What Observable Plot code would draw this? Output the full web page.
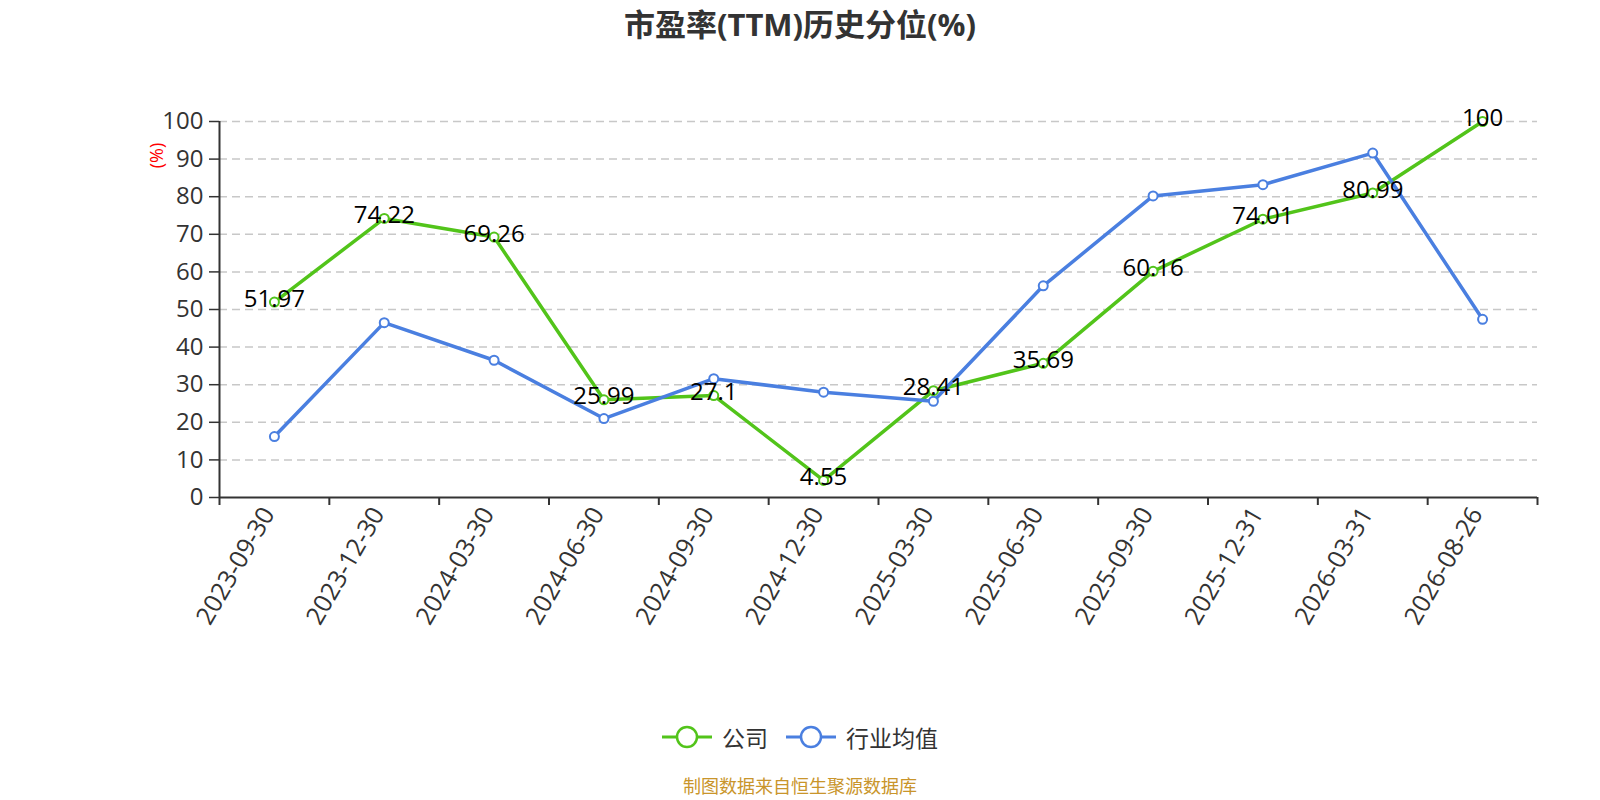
<!DOCTYPE html>
<html>
<head>
<meta charset="utf-8">
<script src="https://cdn.jsdelivr.net/npm/d3@7"></script>
<script src="https://cdn.jsdelivr.net/npm/@observablehq/plot@0.6"></script>
<style>
  body { margin: 0; background: #fff; font-family: "Open Sans", "Noto Sans CJK SC", sans-serif; }
  #wrap { position: relative; width: 1600px; height: 800px; overflow: hidden; }
  #title { position: absolute; top: 0px; left: 0; width: 1600px; text-align: center; font-size: 31px; font-weight: bold; color: #333; }
  #chart { position: absolute; top: 0; left: 0; }
  #legend { position: absolute; top: 720px; left: 0; width: 1600px; display: flex; justify-content: center; align-items: center; font-size: 23px; color: #333; }
  #legend .item { display: flex; align-items: center; margin: 0 9px; }
  #legend svg { margin-right: 10px; }
  #footer { position: absolute; top: 775px; left: 0; width: 1600px; text-align: center; font-size: 18px; line-height: 22px; color: #c9952b; }
</style>
</head>
<body>
<div id="wrap">
  <div id="chart"></div>
  <div id="title">市盈率(TTM)历史分位(%)</div>
  <div id="legend"></div>
  <div id="footer">制图数据来自恒生聚源数据库</div>
</div>
<script>
const categories = ["2023-09-30","2023-12-30","2024-03-30","2024-06-30","2024-09-30","2024-12-30","2025-03-30","2025-06-30","2025-09-30","2025-12-31","2026-03-31","2026-08-26"];
const companyValues = [51.97, 74.22, 69.26, 25.99, 27.1, 4.55, 28.41, 35.69, 60.16, 74.01, 80.99, 100];
const industryValues = [16.2, 46.5, 36.5, 21.0, 31.6, 28.0, 25.6, 56.3, 80.2, 83.2, 91.6, 47.4];
const yTicks = [0, 10, 20, 30, 40, 50, 60, 70, 80, 90, 100];
const seriesNames = ["公司", "行业均值"];
const seriesColors = ["#52c41a", "#4a7fe0"];

const W = 1600, H = 660;
const mL = 219, mR = 63, mT = 121, mB = 163;
const bw = (W - mL - mR) / categories.length;

const company = categories.map((c, i) => ({date: c, value: companyValues[i]}));
const industry = categories.map((c, i) => ({date: c, value: industryValues[i]}));

const plot = Plot.plot({
  width: W, height: H,
  marginLeft: mL, marginRight: mR, marginTop: mT, marginBottom: mB,
  style: {fontFamily: '"Open Sans", "Noto Sans CJK SC", sans-serif', background: "transparent", overflow: "visible"},
  x: {type: "band", domain: categories, padding: 0, round: false},
  y: {domain: [0, 100]},
  marks: [
    Plot.gridY(yTicks.filter(d => d > 0), {stroke: "#c8c8c8", strokeOpacity: 1, strokeWidth: 1.5, strokeDasharray: "8,5"}),
    Plot.axisY(yTicks, {tickSize: 10, tickPadding: 6, fontSize: 24, color: "#333", stroke: "#333", strokeWidth: 1.5, label: null}),
    Plot.ruleY([0], {stroke: "#333", strokeWidth: 2}),
    Plot.ruleX([categories[0]], {y1: 0, y2: 100, dx: -bw / 2, stroke: "#333", strokeWidth: 2}),
    Plot.ruleX(categories, {y1: 0, y2: 0, insetBottom: -8, dx: -bw / 2, stroke: "#333", strokeWidth: 2}),
    Plot.ruleX([categories[categories.length - 1]], {y1: 0, y2: 0, insetBottom: -8, dx: bw / 2, stroke: "#333", strokeWidth: 2}),
    Plot.axisX({tickSize: 0, tickPadding: 12, tickRotate: -60, fontSize: 25, color: "#333", dx: -6, label: null}),
    Plot.text(["(%)"], {frameAnchor: "top-left", dx: -62, dy: 34, rotate: -90, fill: "red", fontSize: 18, textAnchor: "middle", lineAnchor: "middle"}),
    Plot.line(company, {x: "date", y: "value", stroke: seriesColors[0], strokeWidth: 3.5}),
    Plot.line(industry, {x: "date", y: "value", stroke: seriesColors[1], strokeWidth: 3.5}),
    Plot.dot(company, {x: "date", y: "value", r: 4.5, fill: "white", stroke: seriesColors[0], strokeWidth: 2}),
    Plot.dot(industry, {x: "date", y: "value", r: 4.5, fill: "white", stroke: seriesColors[1], strokeWidth: 2}),
    Plot.text(company, {x: "date", y: "value", text: d => String(d.value), fontSize: 24, fill: "#000", dy: -3, lineAnchor: "middle"})
  ]
});
document.getElementById("chart").appendChild(plot);

const legend = document.getElementById("legend");
seriesNames.forEach((name, i) => {
  const item = document.createElement("div");
  item.className = "item";
  item.innerHTML = `<svg width="50" height="26" viewBox="0 0 50 26"><line x1="0" y1="13" x2="50" y2="13" stroke="${seriesColors[i]}" stroke-width="3"/><circle cx="25" cy="13" r="10" fill="white" stroke="${seriesColors[i]}" stroke-width="2.5"/></svg><span>${name}</span>`;
  legend.appendChild(item);
});
</script>
</body>
</html>
